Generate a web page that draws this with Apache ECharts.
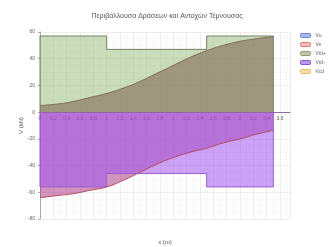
<!DOCTYPE html>
<html>
<head>
<meta charset="utf-8">
<script src="https://cdn.jsdelivr.net/npm/echarts@6/dist/echarts.min.js"></script>
<style>
  html, body { margin: 0; padding: 0; background: #fff; }
  #chart { width: 334px; height: 247px; }
</style>
</head>
<body>
<div id="chart"></div>
<script>
// shear envelope along the member (m -> kN)
const xCurve = [0, 0.25, 0.5, 0.75, 1, 1.25, 1.5, 1.75, 2, 2.25, 2.5, 2.75, 3, 3.25, 3.5]
const vPos = [5, 6, 8, 11, 14, 18, 23, 29, 35, 41, 46, 50, 53, 55, 56.5]
const vNeg = [-64, -62.5, -61, -58.5, -56, -51, -45, -39, -34, -30, -27, -23, -20, -16.5, -13.5]

// resistance steps (critical zones at both ends)
const xStep = [0, 0, 1, 1, 2.5, 2.5, 3.5, 3.5]
const vrdPos = [0, 57, 57, 47, 47, 57, 57, 0]
const vrdNeg = [0, -56, -56, -46, -46, -56, -56, 0]

const legendNames = ['Vu', 'Ve', 'Vrd+', 'Vrd-', 'Vcd']
const xTicks = { min: 0, max: 3.75, interval: 0.2 }
const yTicks = { min: -80, max: 60, interval: 20 }

const pairs = (xs, ys) => xs.map((x, i) => [x, ys[i]])

const legendStyles = [
  { color: '#a9b9ea', borderColor: '#6d86d2' },
  { color: '#f2bcbc', borderColor: '#e07a7a' },
  { color: '#bcc8a6', borderColor: '#8e9c76' },
  { color: '#b997ec', borderColor: '#7e55d2' },
  { color: '#f6dea6', borderColor: '#e8bc62' }
]

const gridTop = 32
const gridBottom = 28
const plotH = 247 - gridTop - gridBottom
// x axis sits on the zero line, labels and name go with it
const zeroOffset = -plotH * (0 - yTicks.min) / (yTicks.max - yTicks.min)

const chart = echarts.init(document.getElementById('chart'), null, { renderer: 'canvas' })

const font = 'Liberation Sans'

chart.setOption({
  animation: false,
  backgroundColor: '#fff',
  textStyle: { fontFamily: font },
  title: {
    text: 'Περιβάλλουσα Δράσεων και Αντοχών Τέμνουσας',
    left: 'center',
    top: 8,
    textStyle: { fontSize: 7, fontWeight: 'normal', color: '#555', fontFamily: font }
  },
  legend: {
    orient: 'vertical',
    left: 300,
    top: 33,
    padding: 0,
    itemWidth: 10,
    itemHeight: 4,
    itemGap: 4,
    icon: 'roundRect',
    textStyle: { fontSize: 5, color: '#666', fontFamily: font },
    data: legendNames.map((n, i) => ({
      name: n,
      itemStyle: { color: legendStyles[i].color, borderColor: legendStyles[i].borderColor, borderWidth: 1 }
    }))
  },
  grid: { left: 40, right: 44, top: gridTop, bottom: gridBottom, containLabel: false, outerBoundsMode: 'none' },
  xAxis: {
    type: 'value',
    min: xTicks.min,
    max: xTicks.max,
    interval: xTicks.interval,
    offset: zeroOffset,
    name: 'x (m)',
    nameLocation: 'middle',
    nameGap: 127,
    nameMoveOverlap: false,
    nameTextStyle: { fontSize: 6, color: '#555' },
    axisLine: { onZero: false, lineStyle: { color: '#8c6aa8', width: 1 } },
    axisTick: { show: false },
    axisLabel: { fontSize: 5, color: '#555', margin: 4, showMaxLabel: false },
    splitLine: { show: true, lineStyle: { color: '#e9e9e9', width: 0.8 } },
    minorTick: { show: false, splitNumber: 2 },
    minorSplitLine: { show: true, lineStyle: { color: '#f3f3f3', width: 0.6 } }
  },
  yAxis: {
    type: 'value',
    min: yTicks.min,
    max: yTicks.max,
    interval: yTicks.interval,
    name: 'V (kN)',
    nameLocation: 'middle',
    nameGap: 16,
    nameMoveOverlap: false,
    nameTextStyle: { fontSize: 6, color: '#555' },
    axisLine: { show: true, lineStyle: { color: '#aaa' } },
    axisTick: { show: true, length: 2, lineStyle: { color: '#aaa' } },
    axisLabel: { fontSize: 5, color: '#666', margin: 5 },
    splitLine: { show: true, lineStyle: { color: '#e9e9e9', width: 0.8 } },
    minorTick: { show: false, splitNumber: 4 },
    minorSplitLine: { show: true, lineStyle: { color: '#f3f3f3', width: 0.6 } }
  },
  series: [
    {
      name: 'Vu',
      type: 'line',
      data: [],
      itemStyle: { color: legendStyles[0].borderColor }
    },
    {
      name: 'Ve',
      type: 'line',
      smooth: true,
      showSymbol: false,
      data: pairs(xCurve, vNeg),
      lineStyle: { color: '#b5475a', width: 1 },
      itemStyle: { color: '#b5475a' },
      areaStyle: { color: '#a52d7d', opacity: 0.5 }
    },
    {
      name: 'Vrd-',
      type: 'line',
      showSymbol: false,
      data: pairs(xStep, vrdNeg),
      lineStyle: { color: '#9a5fd0', width: 1 },
      itemStyle: { color: '#9a5fd0' },
      areaStyle: { color: '#a055ee', opacity: 0.55 }
    },
    {
      name: 'Vrd+',
      type: 'line',
      showSymbol: false,
      data: pairs(xStep, vrdPos),
      lineStyle: { color: '#76806a', width: 1 },
      itemStyle: { color: '#76806a' },
      areaStyle: { color: '#a8c48e', opacity: 0.6 }
    },
    {
      name: 'Ve',
      type: 'line',
      smooth: true,
      showSymbol: false,
      data: pairs(xCurve, vPos),
      lineStyle: { color: '#7e6a58', width: 1 },
      itemStyle: { color: '#7e6a58' },
      areaStyle: { color: '#85705f', opacity: 0.65 }
    },
    {
      name: 'Vcd',
      type: 'line',
      data: [],
      itemStyle: { color: legendStyles[4].borderColor }
    }
  ]
})
</script>
</body>
</html>
